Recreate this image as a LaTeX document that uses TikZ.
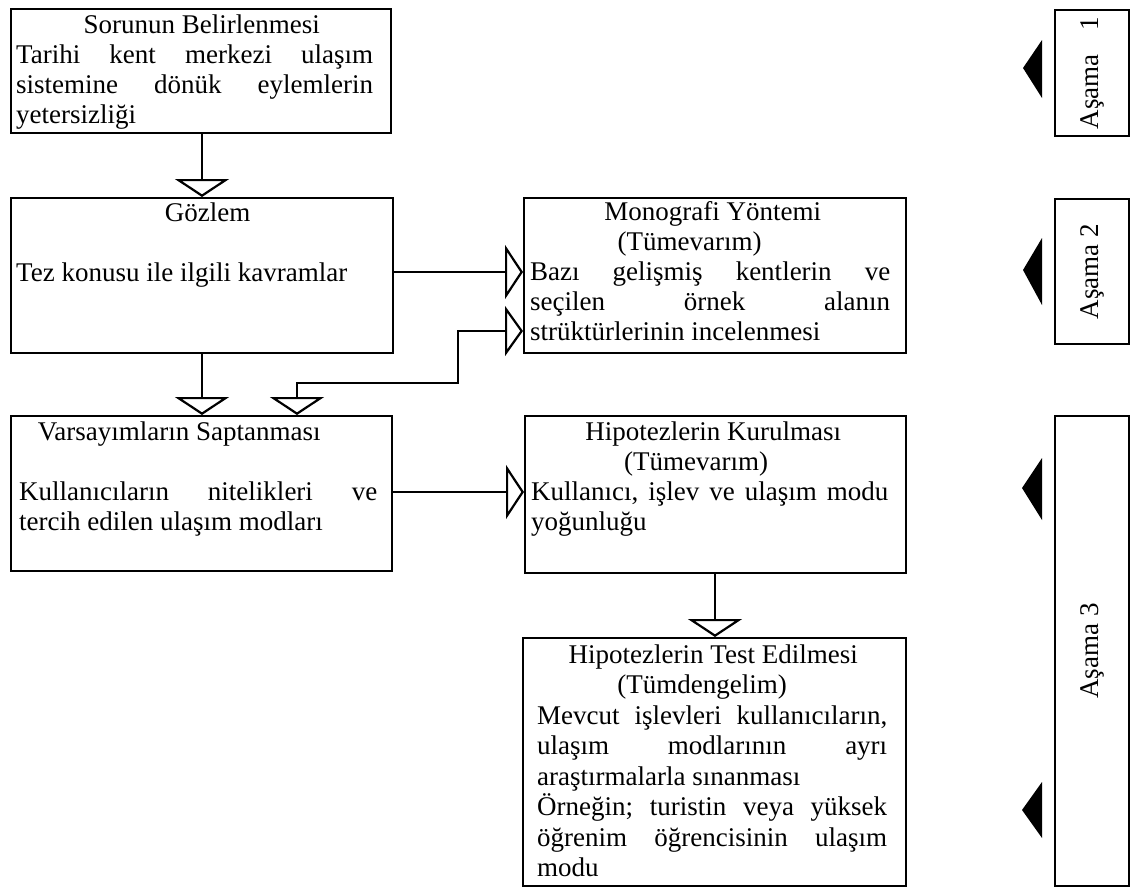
\documentclass[tikz,border=0pt]{standalone}
\usepackage{fontspec}
\setmainfont{Liberation Serif}
\usetikzlibrary{arrows.meta}
\newcommand\ctr[2]{\makebox[\linewidth]{\hspace*{#1pt}#2}}
\newcommand\jl[1]{\makebox[\linewidth]{#1}}
\newcommand\lft[1]{\makebox[\linewidth][l]{#1}}
\tikzset{
  box/.style={draw, line width=2.2pt, rectangle, inner sep=0pt, anchor=north west},
  txt/.style={inner sep=0pt, anchor=base west, font={\fontsize{27}{30}\selectfont\lineskiplimit=-50pt}},
  txtb/.style={txt, font={\fontsize{27}{30.5}\selectfont\lineskiplimit=-50pt}},
  asm/.style={inner sep=0pt, rotate=90, font={\fontsize{27}{30}\selectfont}},
  arr/.style={line width=2.2pt, -{Triangle[open, length=18pt, width=54pt, line width=2.2pt]}},
  biarr/.style={line width=2.2pt, {Triangle[open, length=18pt, width=54pt, line width=2.2pt]}-{Triangle[open, length=18pt, width=50pt, line width=2.2pt]}},
  stagemark/.style={fill=black}
}
\begin{document}
\begin{tikzpicture}[x=1pt, y=-1pt, line join=miter]
\useasboundingbox (0,0) rectangle (1134,887);
\fill[white] (0,0) rectangle (1134,887);

% boxes
\node[box, minimum width=380pt, minimum height=124pt] (b1) at (10,8) {};
\node[box, minimum width=382pt, minimum height=155pt] (b2) at (10,197) {};
\node[box, minimum width=381pt, minimum height=155pt] (b3) at (10,415) {};
\node[box, minimum width=382pt, minimum height=155pt] (m) at (523,197) {};
\node[box, minimum width=381pt, minimum height=157pt] (h1) at (524,415) {};
\node[box, minimum width=383pt, minimum height=248pt] (h2) at (522,637) {};
\node[box, minimum width=74pt, minimum height=126pt] (a1) at (1054,9) {};
\node[box, minimum width=74pt, minimum height=145pt] (a2) at (1054,198) {};
\node[box, minimum width=74pt, minimum height=470pt] (a3) at (1054,415) {};

% texts
\node[txt] (b1t) at (16,33) {\parbox[t]{357pt}{%
\ctr{14}{Sorunun Belirlenmesi}\\
\jl{Tarihi\hfill kent\hfill merkezi\hfill ulaşım}\\
\jl{sistemine\hfill dönük\hfill eylemlerin}\\
\lft{yetersizliği}}};

\node[txt] (b2t) at (16,221) {\parbox[t]{357pt}{%
\ctr{26}{Gözlem}\\
\mbox{}\\
\lft{Tez konusu ile ilgili kavramlar}}};

\node[txt] (b3t) at (19,440) {\parbox[t]{358pt}{%
\ctr{-38}{Varsayımların Saptanması}\\
\mbox{}\\
\jl{Kullanıcıların\hfill nitelikleri\hfill ve}\\
\lft{tercih edilen ulaşım modları}}};

\node[txt] (mt) at (530,220) {\parbox[t]{360pt}{%
\ctr{5}{Monografi Yöntemi}\\
\ctr{-41}{(Tümevarım)}\\
\jl{Bazı\hfill gelişmiş\hfill kentlerin\hfill ve}\\
\jl{seçilen\hfill örnek\hfill alanın}\\
\lft{strüktürlerinin incelenmesi}}};

\node[txt] (h1t) at (531,440) {\parbox[t]{357pt}{%
\ctr{7}{Hipotezlerin Kurulması}\\
\ctr{-27}{(Tümevarım)}\\
\jl{Kullanıcı,\hfill işlev\hfill ve\hfill ulaşım\hfill modu}\\
\lft{yoğunluğu}}};

\node[txtb] (h2t) at (537,663) {\parbox[t]{350pt}{%
\ctr{2}{Hipotezlerin Test Edilmesi}\\
\ctr{-20}{(Tümdengelim)}\\
\jl{Mevcut\hfill işlevleri\hfill kullanıcıların,}\\
\jl{ulaşım\hfill modlarının\hfill ayrı}\\
\lft{araştırmalarla sınanması}\\
\jl{Örneğin;\hfill turistin\hfill veya\hfill yüksek}\\
\jl{öğrenim\hfill öğrencisinin\hfill ulaşım}\\
\lft{modu}}};

\node[asm] (a1t) at (a1.center) {\makebox[112pt]{Aşama\hfill 1}};
\node[asm] (a2t) at (a2.center) {Aşama 2};
\node[asm] (a3t) at (a3.center) {Aşama 3};

% connectors
\draw[arr] (b1.south -| 202,0) -- (b2.north -| 202,0);
\draw[arr] (b2.south -| 202,0) -- (b3.north -| 202,0);
\draw[arr] (b2.east |- 0,272) -- (m.west |- 0,272);
\draw[biarr] (b3.north -| 297,0) |- (458,383) |- (m.west |- 0,331);
\draw[arr] (b3.east |- 0,492) -- (h1.west |- 0,492);
\draw[arr] (h1.south -| 715,0) -- (h2.north -| 715,0);

% stage markers
\fill[stagemark] (1042,40) -- (1023,68) -- (1042,98) -- cycle;
\fill[stagemark] (1042,238) -- (1023,270) -- (1042,305) -- cycle;
\fill[stagemark] (1042,458) -- (1022,488) -- (1042,520) -- cycle;
\fill[stagemark] (1042,782) -- (1022,810) -- (1042,838) -- cycle;
\end{tikzpicture}
\end{document}
